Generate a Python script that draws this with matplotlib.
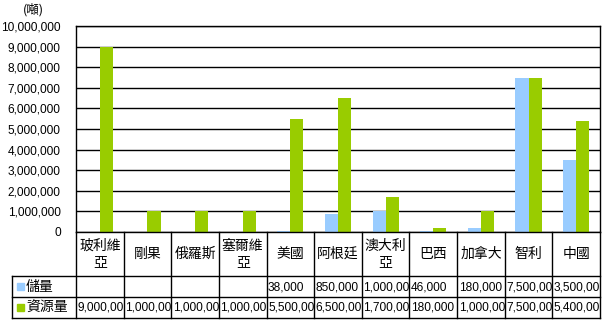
import matplotlib
matplotlib.use("Agg")
import matplotlib.pyplot as plt
from matplotlib.patches import Rectangle

# data
countries = ["玻利維\n亞", "剛果", "俄羅斯", "塞爾維\n亞", "美國", "阿根廷",
             "澳大利\n亞", "巴西", "加拿大", "智利", "中國"]
reserves = [None, None, None, None, 38000, 850000, 1000000, 46000, 180000, 7500000, 3500000]
resources = [9000000, 1000000, 1000000, 1000000, 5500000, 6500000, 1700000,
             180000, 1000000, 7500000, 5400000]
yticks = list(range(0, 10000001, 1000000))
row_names = ["儲量", "資源量"]
unit_label = "(噸)"

BLUE = "#99CCFF"
GREEN = "#99CC00"
cjk = ["Noto Sans CJK TC", "DejaVu Sans"]
num_font = "Liberation Sans"

W, H = 604, 323
fig = plt.figure(figsize=(W / 100, H / 100), dpi=100)

# plot area in pixels: x 76..600, y 26..232
ax = fig.add_axes([76 / W, (H - 232) / H, 524 / W, 206 / H])
n = len(countries)
x = list(range(n))
bw = 0.275
res_vals = [0 if v is None else v for v in reserves]
ax.bar([i - bw / 2 for i in x], res_vals, width=bw, color=BLUE, zorder=2)
ax.bar([i + bw / 2 for i in x], resources, width=bw, color=GREEN, zorder=2)
ax.set_xlim(-0.5, n - 0.5)
ax.set_ylim(0, 10000000)
ax.set_yticks(yticks)
ax.set_yticklabels([f"{v:,}" for v in yticks], fontfamily=num_font, fontsize=8.6)
ax.tick_params(axis="y", length=0, pad=11)
ax.set_xticks([])
ax.grid(axis="y", color="black", linewidth=1, zorder=1)
for s in ax.spines.values():
    s.set_linewidth(1)
    s.set_color("black")

fig.text(33 / W, 1 - 10 / H, unit_label, ha="center", va="center",
         fontfamily=cjk, fontsize=9)

# table under the chart: x 12..600, y 232..318 px
xmin = -0.5 - 64 / (524 / n)
tb = fig.add_axes([12 / W, (H - 318) / H, 588 / W, 86 / H])
tb.set_xlim(xmin, n - 0.5)
tb.set_ylim(86, 0)
tb.axis("off")
lw = 1
for i in range(n + 1):
    tb.plot([i - 0.5, i - 0.5], [0, 86], color="black", lw=lw, clip_on=False)
tb.plot([xmin, xmin], [44, 86], color="black", lw=lw, clip_on=False)
for yy in (44, 65, 86):
    tb.plot([xmin, n - 0.5], [yy, yy], color="black", lw=lw, clip_on=False)

for i, c in enumerate(countries):
    tb.text(i, 22, c, ha="center", va="center", fontfamily=cjk, fontsize=10,
            linespacing=1.2)

px = (n - 0.5 - xmin) / 588  # data units per pixel
for r, (name, vals, col) in enumerate(zip(row_names, [reserves, resources], [BLUE, GREEN])):
    yc = 54.5 + r * 21
    tb.add_patch(Rectangle((xmin + 5 * px, yc - 3.5), 7 * px, 7, color=col, clip_on=False))
    tb.text(xmin + 14 * px, yc, name, ha="left", va="center", fontfamily=cjk, fontsize=10)
    for i, v in enumerate(vals):
        if v is None:
            continue
        s = f"{v:,}"[:8]
        tb.text(i - 0.5 + 1.5 * px, yc + 0.5, s, ha="left", va="center",
                fontfamily=num_font, fontsize=8.6)

fig.savefig("out.png", dpi=100)
